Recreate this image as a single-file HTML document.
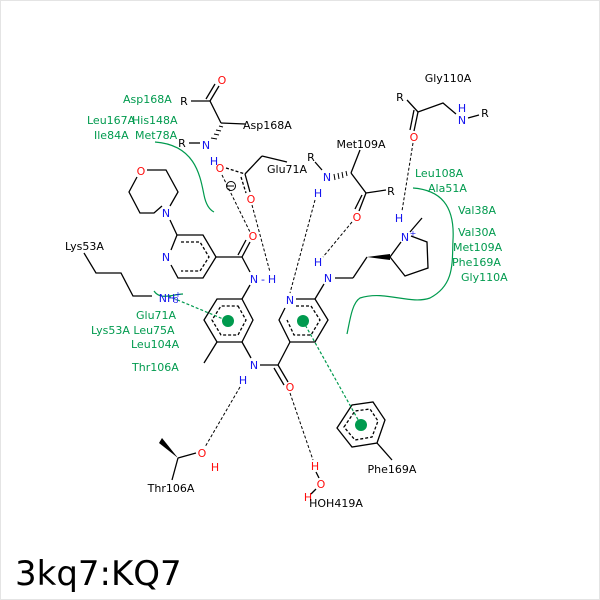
<!DOCTYPE html>
<html><head><style>body{margin:0;background:#fff}svg{display:block}</style></head><body>
<svg width="600" height="600" viewBox="0 0 600 600" xmlns="http://www.w3.org/2000/svg" font-family="'DejaVu Sans','Liberation Sans',sans-serif" font-size="11">
<rect x="0.5" y="0.5" width="599" height="599" fill="#fff" stroke="#e4e4e4"/>
<g stroke="#000" stroke-width="1.3" fill="none">
<line x1="191" y1="101" x2="210" y2="101"/>
<line x1="210" y1="101" x2="219" y2="86"/><line x1="206" y1="99" x2="215" y2="84"/>
<line x1="210" y1="101" x2="221" y2="123"/>
<line x1="221" y1="123" x2="245" y2="124"/>
<line x1="189" y1="143" x2="200" y2="143"/>
<line x1="226" y1="168" x2="245" y2="174" stroke-dasharray="3,2"/>
<line x1="245" y1="174" x2="262" y2="156"/><line x1="262" y1="156" x2="287" y2="162"/>
<line x1="245" y1="174" x2="250" y2="192"/><line x1="241" y1="177" x2="246" y2="193" stroke-dasharray="3,2"/>
<circle cx="231" cy="186" r="4.5" stroke-width="1"/>
<line x1="228" y1="186" x2="234" y2="186" stroke-width="1"/>
<polyline points="147,170 166,170 178,192 170,206"/>
<polyline points="162,206 154,213 140,213 129,192 137,177"/>
<line x1="170" y1="220" x2="177" y2="235"/>
<polyline points="171,250 177,235 203,235 216,257 203,278 178,278 171,265"/>
<polyline points="181,242 200,242 209,257 200,271 181,271" stroke-dasharray="3,2"/>
<line x1="216" y1="257" x2="242" y2="257"/>
<line x1="242" y1="257" x2="250" y2="242"/><line x1="238" y1="255" x2="246" y2="240"/>
<line x1="242" y1="257" x2="250" y2="272"/>
<polyline points="84,253 96,273 121,273 133,296 152,296"/>
<polygon points="242,299 253,320 242,342 217,342 204,320 217,299"/>
<polygon points="238,306 246,320 238,335 221,335 212,320 221,306" stroke-dasharray="3,2"/>
<line x1="250" y1="285" x2="242" y2="299"/>
<line x1="217" y1="342" x2="204" y2="363"/>
<line x1="242" y1="342" x2="251" y2="358"/>
<line x1="260" y1="365" x2="278" y2="365"/>
<line x1="278" y1="365" x2="288" y2="382"/><line x1="274" y1="368" x2="284" y2="385"/>
<line x1="278" y1="365" x2="290" y2="342"/>
<polyline points="296,299 315,299 328,320 315,342 290,342 279,320 285,308"/>
<polyline points="296,306 311,306 320,320 311,335 294,335 287,320" stroke-dasharray="3,2"/>
<line x1="315" y1="299" x2="324" y2="284"/>
<line x1="335" y1="278" x2="353" y2="278"/><line x1="353" y1="278" x2="367" y2="257"/>
<polyline points="390,257 401,242"/><polyline points="411,236 427,242 428,268 405,276 390,257"/>
<line x1="410" y1="232" x2="422" y2="218"/>
<polyline points="407,100 418,112 443,103 456,114"/>
<line x1="468" y1="118" x2="479" y2="115"/>
<line x1="418" y1="112" x2="414" y2="131"/><line x1="414" y1="110" x2="410" y2="130"/>
<line x1="351" y1="173" x2="360" y2="150"/>
<line x1="315" y1="162" x2="322" y2="170"/>
<line x1="351" y1="173" x2="366" y2="193"/><line x1="366" y1="193" x2="386" y2="190"/>
<line x1="366" y1="193" x2="359" y2="211"/><line x1="362" y1="195" x2="355" y2="209"/>
<line x1="178" y1="458" x2="196" y2="453"/><line x1="178" y1="458" x2="172" y2="480"/>
<line x1="316" y1="472" x2="319" y2="478"/><line x1="316" y1="489" x2="311" y2="494"/>
<polygon points="337,428 352,405 373,402 385,420 377,443 352,447"/>
<polygon points="344,427 355,411 370,409 378,421 372,437 355,440" stroke-dasharray="3,2"/>
<line x1="377" y1="443" x2="392" y2="460"/>
</g>
<polygon points="367,257 390,254 390,260" fill="#000"/>
<polygon points="178,458 159,443 162,438" fill="#000"/>
<g stroke="#000" stroke-width="1">
<line x1="219" y1="126" x2="223" y2="127"/><line x1="216" y1="130" x2="221" y2="131"/><line x1="214" y1="134" x2="219" y2="135"/><line x1="211" y1="138" x2="217" y2="139"/>
<line x1="346" y1="171" x2="347" y2="176"/><line x1="342" y1="172" x2="343" y2="178"/><line x1="338" y1="173" x2="339" y2="179"/><line x1="334" y1="174" x2="335" y2="180"/>
</g>
<g stroke="#000" stroke-width="1" stroke-dasharray="3,2" fill="none">
<line x1="222" y1="175" x2="250" y2="232"/>
<line x1="252" y1="205" x2="270" y2="272"/>
<line x1="413" y1="143" x2="402" y2="211"/>
<line x1="352" y1="222" x2="323" y2="257"/>
<line x1="315" y1="200" x2="290" y2="293"/>
<line x1="240" y1="387" x2="205" y2="447"/>
<line x1="290" y1="393" x2="313" y2="460"/>
</g>
<g stroke="#009a4e" stroke-width="1.2" fill="none">
<path d="M155,142 C195,145 200,175 204,195 C206,205 210,210 214,212"/>
<path d="M413,188 C440,190 455,205 453,240 C452,262 455,285 430,298 C410,305 385,290 360,298 C352,303 350,320 347,334"/>
<path d="M154,291 C160,300 170,295 183,294"/>
<line x1="168" y1="296" x2="228" y2="321" stroke-dasharray="3,2"/>
<line x1="303" y1="321" x2="361" y2="425" stroke-dasharray="3,2"/>
</g>
<g fill="#009a4e"><circle cx="228" cy="321" r="6"/><circle cx="303" cy="321" r="6"/><circle cx="361" cy="425" r="6"/></g>
<g text-anchor="middle" fill="#ff0d0d">
<text x="222" y="84">O</text><text x="220" y="172">O</text><text x="251" y="203">O</text><text x="253" y="240">O</text><text x="141" y="175">O</text>
<text x="414" y="141">O</text><text x="357" y="221">O</text><text x="290" y="391">O</text><text x="202" y="457">O</text><text x="215" y="471">H</text>
<text x="315" y="470">H</text><text x="321" y="488">O</text><text x="308" y="501">H</text>
</g>
<g text-anchor="middle" fill="#1515ee">
<text x="206" y="149">N</text><text x="214" y="165">H</text><text x="166" y="217">N</text><text x="166" y="261">N</text>
<text x="254" y="283">N</text><text x="272" y="283">H</text><text x="263" y="283">-</text>
<text x="167" y="302">NH</text><text x="176" y="303" font-size="8">3</text><text x="178" y="297" font-size="8">+</text>
<text x="254" y="369">N</text><text x="243" y="384">H</text><text x="290" y="304">N</text>
<text x="328" y="282">N</text><text x="318" y="266">H</text>
<text x="405" y="241">N</text><text x="413" y="236" font-size="8">+</text><text x="399" y="222">H</text>
<text x="462" y="124">N</text><text x="462" y="112">H</text>
<text x="327" y="181">N</text><text x="318" y="197">H</text>
</g>
<g fill="#000">
<text x="184" y="105" text-anchor="middle">R</text><text x="182" y="147" text-anchor="middle">R</text>
<text x="243" y="129">Asp168A</text><text x="267" y="173">Glu71A</text><text x="65" y="250">Lys53A</text>
<text x="400" y="101" text-anchor="middle">R</text><text x="485" y="117" text-anchor="middle">R</text><text x="448" y="82" text-anchor="middle">Gly110A</text>
<text x="361" y="148" text-anchor="middle">Met109A</text><text x="311" y="161" text-anchor="middle">R</text><text x="391" y="195" text-anchor="middle">R</text>
<text x="171" y="492" text-anchor="middle">Thr106A</text><text x="336" y="507" text-anchor="middle">HOH419A</text><text x="392" y="473" text-anchor="middle">Phe169A</text>
<text x="15" y="585" font-size="34" font-family="'DejaVu Sans',sans-serif">3kq7:KQ7</text>
</g>
<g fill="#009a4e">
<text x="123" y="103">Asp168A</text><text x="87" y="124">Leu167A</text><text x="132" y="124">His148A</text>
<text x="94" y="139">Ile84A</text><text x="135" y="139">Met78A</text>
<text x="136" y="319">Glu71A</text><text x="91" y="334">Lys53A Leu75A</text><text x="131" y="348">Leu104A</text><text x="132" y="371">Thr106A</text>
<text x="415" y="177">Leu108A</text><text x="428" y="192">Ala51A</text><text x="458" y="214">Val38A</text>
<text x="458" y="236">Val30A</text><text x="453" y="251">Met109A</text><text x="452" y="266">Phe169A</text><text x="461" y="281">Gly110A</text>
</g>
</svg>
</body></html>
